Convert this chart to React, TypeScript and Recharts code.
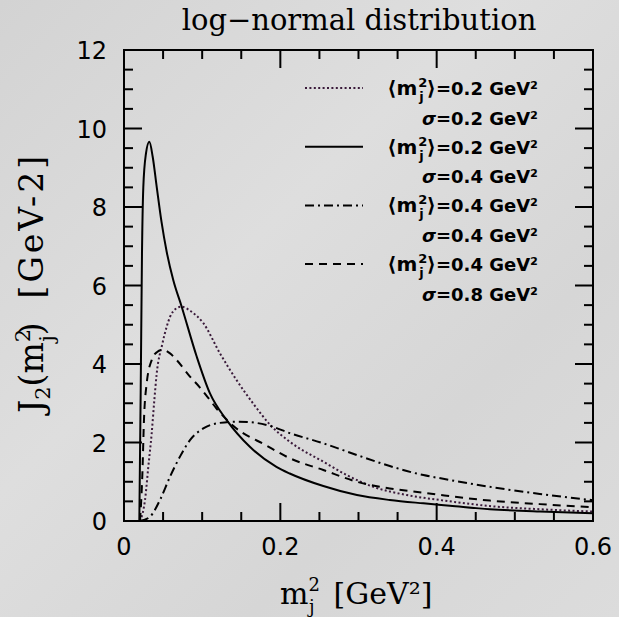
import { LineChart, Line, XAxis, YAxis, Legend } from 'recharts';

// <m_j^2>=0.2, sigma=0.2 (dotted)
const dotted = [
  { x: 0.02, y: 0 }, { x: 0.0226, y: 0.11 }, { x: 0.0269, y: 0.54 }, { x: 0.0311, y: 1.38 },
  { x: 0.0354, y: 2.23 }, { x: 0.0388, y: 3.08 }, { x: 0.0418, y: 3.75 }, { x: 0.0489, y: 4.5 },
  { x: 0.0546, y: 4.95 }, { x: 0.0589, y: 5.2 }, { x: 0.0659, y: 5.4 }, { x: 0.0738, y: 5.46 },
  { x: 0.085, y: 5.35 }, { x: 0.1015, y: 5.04 }, { x: 0.1228, y: 4.27 }, { x: 0.144, y: 3.59 },
  { x: 0.165, y: 3.0 }, { x: 0.187, y: 2.45 }, { x: 0.212, y: 2.02 }, { x: 0.255, y: 1.51 },
  { x: 0.285, y: 1.17 }, { x: 0.319, y: 0.87 }, { x: 0.362, y: 0.66 }, { x: 0.41, y: 0.52 },
  { x: 0.468, y: 0.38 }, { x: 0.532, y: 0.3 }, { x: 0.6, y: 0.24 },
];

// <m_j^2>=0.2, sigma=0.4 (solid)
const solid = [
  { x: 0.0196, y: 0 }, { x: 0.0214, y: 3.4 }, { x: 0.023, y: 6.8 }, { x: 0.0247, y: 8.5 },
  { x: 0.028, y: 9.35 }, { x: 0.0324, y: 9.66 }, { x: 0.0367, y: 9.28 }, { x: 0.0418, y: 8.52 },
  { x: 0.048, y: 7.62 }, { x: 0.0546, y: 6.86 }, { x: 0.063, y: 6.14 }, { x: 0.0738, y: 5.46 },
  { x: 0.093, y: 4.19 }, { x: 0.11, y: 3.25 }, { x: 0.1314, y: 2.57 }, { x: 0.161, y: 1.89 },
  { x: 0.195, y: 1.38 }, { x: 0.212, y: 1.21 }, { x: 0.255, y: 0.89 }, { x: 0.298, y: 0.66 },
  { x: 0.34, y: 0.535 }, { x: 0.383, y: 0.45 }, { x: 0.417, y: 0.39 }, { x: 0.468, y: 0.3 },
  { x: 0.532, y: 0.24 }, { x: 0.6, y: 0.2 },
];

// <m_j^2>=0.4, sigma=0.4 (dash-dot)
const dashDot = [
  { x: 0.0205, y: 0 }, { x: 0.0333, y: 0.11 }, { x: 0.046, y: 0.535 }, { x: 0.0589, y: 1.13 },
  { x: 0.0716, y: 1.64 }, { x: 0.0844, y: 2.06 }, { x: 0.1015, y: 2.36 }, { x: 0.1228, y: 2.5 },
  { x: 0.144, y: 2.53 }, { x: 0.16, y: 2.52 }, { x: 0.187, y: 2.42 }, { x: 0.212, y: 2.24 },
  { x: 0.255, y: 1.98 }, { x: 0.298, y: 1.68 }, { x: 0.34, y: 1.4 }, { x: 0.383, y: 1.17 },
  { x: 0.41, y: 1.07 }, { x: 0.468, y: 0.87 }, { x: 0.532, y: 0.69 }, { x: 0.6, y: 0.53 },
];

// <m_j^2>=0.4, sigma=0.8 (dashed)
const dashed = [
  { x: 0.0205, y: 0 }, { x: 0.0235, y: 1.2 }, { x: 0.0256, y: 2.6 }, { x: 0.029, y: 3.5 },
  { x: 0.0354, y: 4.1 }, { x: 0.042, y: 4.3 }, { x: 0.0495, y: 4.36 }, { x: 0.0589, y: 4.27 },
  { x: 0.0674, y: 4.1 }, { x: 0.0844, y: 3.68 }, { x: 0.0972, y: 3.4 }, { x: 0.11, y: 3.08 },
  { x: 0.1186, y: 2.86 }, { x: 0.133, y: 2.55 }, { x: 0.14, y: 2.42 }, { x: 0.1825, y: 1.92 },
  { x: 0.212, y: 1.6 }, { x: 0.255, y: 1.3 }, { x: 0.298, y: 1.0 }, { x: 0.34, y: 0.83 },
  { x: 0.383, y: 0.72 }, { x: 0.41, y: 0.65 }, { x: 0.468, y: 0.52 }, { x: 0.532, y: 0.43 },
  { x: 0.6, y: 0.35 },
];

const xTicks = [0, 0.05, 0.1, 0.15, 0.2, 0.25, 0.3, 0.35, 0.4, 0.45, 0.5, 0.55, 0.6];
const xLabels = [0, 0.2, 0.4, 0.6];
const yTicks = [0, 0.5, 1, 1.5, 2, 2.5, 3, 3.5, 4, 4.5, 5, 5.5, 6, 6.5, 7, 7.5, 8, 8.5, 9, 9.5, 10, 10.5, 11, 11.5, 12];
const yLabels = [0, 2, 4, 6, 8, 10, 12];
const X_MAX = 0.6;
const Y_MAX = 12;

const series = [
  { key: 'dotted', data: dotted, mean: '0.2', sigma: '0.2', dash: '2 2.4', color: '#3a1a3a' },
  { key: 'solid', data: solid, mean: '0.2', sigma: '0.4', dash: undefined, color: '#000' },
  { key: 'dashdot', data: dashDot, mean: '0.4', sigma: '0.4', dash: '9 4 2 4', color: '#000' },
  { key: 'dashed', data: dashed, mean: '0.4', sigma: '0.8', dash: '8 6', color: '#000' },
];

const INK = '#000';
const has = (list: number[], v: number) => list.some((l) => Math.abs(l - v) < 1e-9);
const tickLen = (major: boolean) => (major ? 18 : 9);

// plot box set by the chart margins / axis sizes below
const BOX = { left: 124, right: 593, top: 50, bottom: 521 };
const px = (v: number) => BOX.left + (v / X_MAX) * (BOX.right - BOX.left);
const py = (v: number) => BOX.bottom - (v / Y_MAX) * (BOX.bottom - BOX.top);

function BottomTick({ x, y, payload }: any) {
  if (!has(xLabels, payload.value)) return <g />;
  return (
    <text x={x} y={y + 34} textAnchor="middle" fontFamily="DejaVu Sans" fontSize={24} fill={INK}>
      {String(payload.value)}
    </text>
  );
}

function LeftTick({ x, y, payload }: any) {
  if (!has(yLabels, payload.value)) return <g />;
  return (
    <text x={x - 17} y={y + 9} textAnchor="end" fontFamily="DejaVu Sans" fontSize={24} fill={INK}>
      {String(payload.value)}
    </text>
  );
}

const XTitle = () => (
  <text x={280} y={604} fontFamily="DejaVu Serif" fontSize={30} fill={INK} style={{ whiteSpace: 'pre' }}>
    m
    <tspan fontSize={18} dy={-13}>2</tspan>
    <tspan fontSize={18} dx={-11} dy={22}>j</tspan>
    <tspan dy={-9}>{'  [GeV²]'}</tspan>
  </text>
);

const YTitle = () => (
  <text transform="rotate(-90 43 413)" x={43} y={413} fontFamily="DejaVu Serif" fontSize={33} fill={INK} style={{ whiteSpace: 'pre' }}>
    J
    <tspan fontSize={21} dy={7}>2</tspan>
    <tspan dy={-7}>(m</tspan>
    <tspan fontSize={21} dy={-13}>2</tspan>
    <tspan fontSize={21} dx={-13} dy={24}>j</tspan>
    <tspan dy={-11}>{') '}</tspan>
    <tspan letterSpacing={3}>{' [GeV-2]'}</tspan>
  </text>
);

// frame with inward ticks on all four sides, plus title and key
function Overlay() {
  return (
    <svg width={619} height={617} style={{ position: 'absolute', left: 0, top: 0 }}>
      <rect
        x={BOX.left}
        y={BOX.top}
        width={BOX.right - BOX.left}
        height={BOX.bottom - BOX.top}
        fill="none"
        stroke={INK}
        strokeWidth={2}
      />
      <g stroke={INK} strokeWidth={2}>
        {xTicks.map((v) => {
          const l = tickLen(has(xLabels, v));
          const x = px(v);
          return (
            <g key={`x${v}`}>
              <path d={`M${x},${BOX.bottom}V${BOX.bottom - l}`} />
              <path d={`M${x},${BOX.top}V${BOX.top + l}`} />
            </g>
          );
        })}
        {yTicks.map((v) => {
          const l = tickLen(has(yLabels, v));
          const y = py(v);
          return (
            <g key={`y${v}`}>
              <path d={`M${BOX.left},${y}H${BOX.left + l}`} />
              <path d={`M${BOX.right},${y}H${BOX.right - l}`} />
            </g>
          );
        })}
      </g>
      <text x={359} y={30} textAnchor="middle" fontFamily="DejaVu Serif" fontSize={29} fill={INK}>
        log−normal distribution
      </text>
      {series.map((s, i) => {
        const cy = 88 + i * 58.7;
        return (
          <g key={s.key} fontFamily="DejaVu Sans" fontWeight="bold" fontSize={18} fill={INK}>
            <line x1={305} y1={cy} x2={363} y2={cy} stroke={s.color} strokeWidth={2} strokeDasharray={s.dash} />
            <text x={538} y={cy + 7} textAnchor="end">
              <tspan fontSize={20}>⟨m</tspan>
              <tspan fontSize={13} dy={-8} dx={1}>2</tspan>
              <tspan fontSize={13} dx={-8} dy={14}>j</tspan>
              <tspan fontSize={20} dy={-6} dx={3}>⟩</tspan>
              <tspan>{`=${s.mean} GeV²`}</tspan>
            </text>
            <text x={538} y={cy + 36.5} textAnchor="end">
              <tspan fontStyle="italic">σ</tspan>
              {`=${s.sigma} GeV²`}
            </text>
          </g>
        );
      })}
    </svg>
  );
}

export default function App() {
  return (
    <div
      style={{
        position: 'absolute',
        left: 0,
        top: 0,
        width: 619,
        height: 617,
        background: 'linear-gradient(135deg, #d3d3d3 0%, #dedede 40%, #d6d6d6 70%, #dcdcdc 100%)',
      }}
    >
      <LineChart width={619} height={617} margin={{ top: BOX.top, right: 619 - BOX.right, bottom: 0, left: 0 }}>
        <XAxis
          dataKey="x"
          type="number"
          domain={[0, X_MAX]}
          ticks={xTicks}
          interval={0}
          height={617 - BOX.bottom}
          tickSize={0}
          tickMargin={0}
          tickLine={false}
          tick={<BottomTick />}
          axisLine={{ stroke: INK, strokeWidth: 2 }}
          label={{ content: <XTitle /> }}
          allowDataOverflow
        />
        <YAxis
          type="number"
          domain={[0, Y_MAX]}
          ticks={yTicks}
          interval={0}
          width={BOX.left}
          tickSize={0}
          tickMargin={0}
          tickLine={false}
          tick={<LeftTick />}
          axisLine={{ stroke: INK, strokeWidth: 2 }}
          label={{ content: <YTitle /> }}
          allowDataOverflow
        />
        {series.map((s) => (
          <Line
            key={s.key}
            data={s.data}
            dataKey="y"
            type="monotone"
            stroke={s.color}
            strokeWidth={2}
            strokeDasharray={s.dash}
            dot={false}
            isAnimationActive={false}
          />
        ))}
        <Legend
          layout="vertical"
          align="center"
          verticalAlign="middle"
          content={() => <Overlay />}
          wrapperStyle={{ position: 'absolute', left: 0, top: 0, width: 619, height: 617, pointerEvents: 'none' }}
        />
      </LineChart>
    </div>
  );
}
